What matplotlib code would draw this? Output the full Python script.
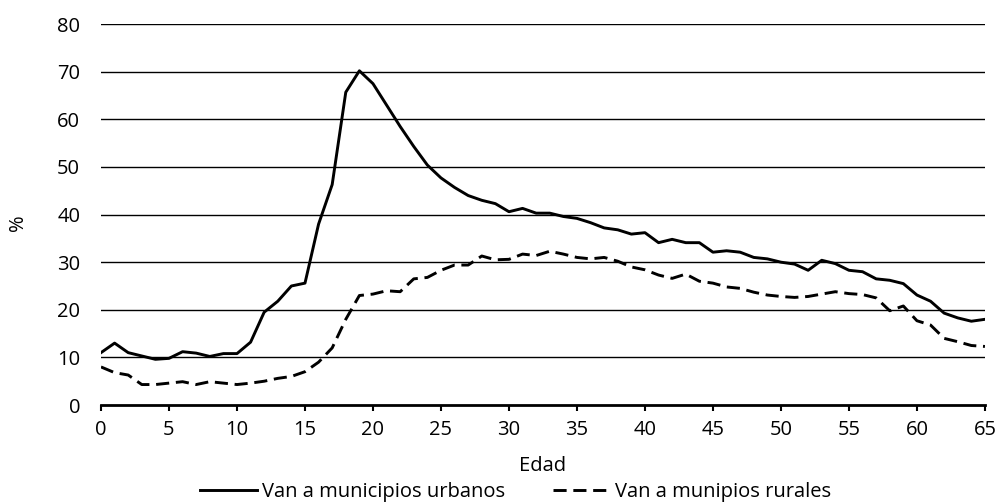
import matplotlib.pyplot as plt

plt.rcParams['font.family'] = ['Open Sans', 'DejaVu Sans']

# Edad 0..65
edad = list(range(66))

urbanos = [11.0, 13.0, 11.0, 10.3, 9.6, 9.8, 11.2, 10.9, 10.2, 10.8,
           10.8, 13.2, 19.5, 21.8, 25.0, 25.6, 38.0, 46.3, 65.7, 70.2,
           67.5, 63.0, 58.5, 54.3, 50.4, 47.7, 45.7, 44.0, 43.0, 42.3,
           40.6, 41.3, 40.3, 40.3, 39.6, 39.2, 38.3, 37.2, 36.8, 35.9,
           36.2, 34.1, 34.8, 34.1, 34.1, 32.1, 32.4, 32.1, 31.0, 30.7,
           30.0, 29.6, 28.3, 30.4, 29.7, 28.3, 28.0, 26.5, 26.2, 25.5,
           23.1, 21.8, 19.3, 18.3, 17.6, 18.0]

rurales = [8.0, 6.8, 6.3, 4.3, 4.3, 4.6, 4.9, 4.3, 4.9, 4.6,
           4.3, 4.6, 5.0, 5.6, 6.0, 7.0, 9.0, 12.0, 18.0, 23.0,
           23.3, 24.0, 23.8, 26.5, 26.8, 28.3, 29.4, 29.4, 31.3, 30.5,
           30.6, 31.7, 31.4, 32.3, 31.7, 31.0, 30.7, 31.0, 30.2, 29.0,
           28.4, 27.3, 26.6, 27.5, 26.0, 25.6, 24.8, 24.5, 23.7, 23.1,
           22.8, 22.6, 22.8, 23.3, 23.8, 23.4, 23.2, 22.5, 19.8, 20.8,
           17.7, 16.8, 14.0, 13.3, 12.5, 12.3]

FS = 14.5

fig = plt.figure(figsize=(9.97, 5.03), dpi=100)
ax = fig.add_axes([0.1013, 0.1948, 0.8866, 0.7572])

for v in range(10, 90, 10):
    ax.axhline(v, color='black', lw=1.0, zorder=1)

ax.plot(edad, urbanos, color='black', lw=2.1, label='Van a municipios urbanos', zorder=3)
ax.plot(edad, rurales, color='black', lw=2.1, linestyle=(0, (4.5, 2.3)),
        label='Van a munipios rurales', zorder=3)

ax.set_xlim(0, 65)
ax.set_ylim(0, 80)
ax.set_xticks(range(0, 70, 5))
ax.set_yticks(range(0, 90, 10))
ax.tick_params(axis='x', direction='out', length=4.5, width=1.5, labelsize=FS, pad=6)
ax.tick_params(axis='y', length=0, labelsize=FS, pad=15)

for s in ['top', 'right', 'left']:
    ax.spines[s].set_visible(False)
ax.spines['bottom'].set_linewidth(2)
ax.spines['bottom'].set_zorder(4)

ax.set_xlabel('Edad', fontsize=FS)
ax.xaxis.set_label_coords(0.5, -0.135)
ax.set_ylabel('%', fontsize=FS)
ax.yaxis.set_label_coords(-0.083, 0.48)

fig.legend(*ax.get_legend_handles_labels(), loc='center', bbox_to_anchor=(0.517, 0.022),
           ncol=2, frameon=False, fontsize=FS, handlelength=2.8, handletextpad=0.25,
           columnspacing=2.4, borderaxespad=0, borderpad=0)

fig.savefig('out.png', dpi=100)
